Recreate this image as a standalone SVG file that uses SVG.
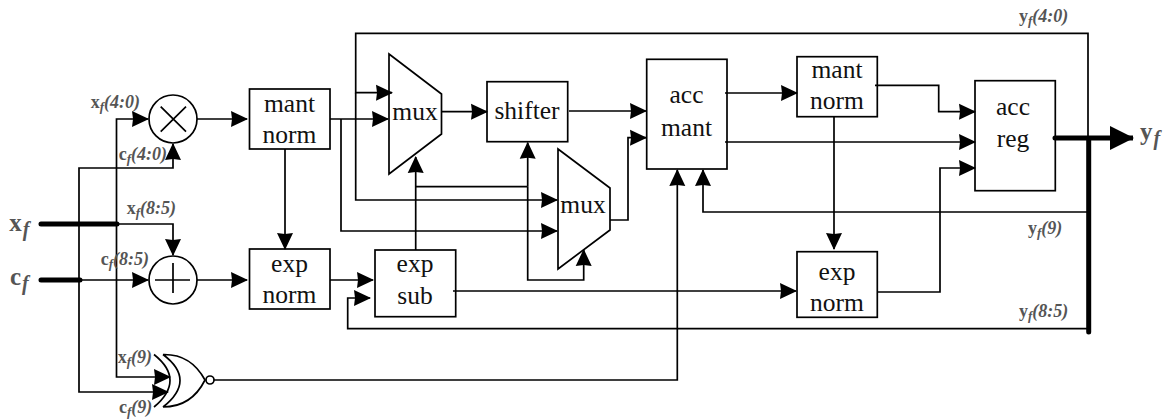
<svg xmlns="http://www.w3.org/2000/svg" width="1176" height="419" viewBox="0 0 1176 419">
<style>
.s{fill:#fff;stroke:#000;stroke-width:1.7}
.n{fill:none;stroke:#000;stroke-width:1.7}
.c{fill:none;stroke:#000;stroke-width:1.7;marker-end:url(#a)}
.w{fill:none;stroke:#000;stroke-width:1.7}
.t{fill:none;stroke:#000;stroke-width:5;stroke-linecap:round}
text{font-family:"Liberation Serif","Times New Roman",serif}
.b{font-size:25.500px;fill:#111;text-anchor:middle}
.l{font-size:18px;font-weight:bold;fill:#555}
.l tspan{font-style:italic}
.l .u{font-style:normal}
.l .f{font-size:13px}
.g{font-size:25px;font-weight:bold;fill:#555}
.g .f{font-size:20px;font-style:italic}
</style>
<defs>
<marker id="a" markerUnits="userSpaceOnUse" markerWidth="18" markerHeight="18" refX="16" refY="8" orient="auto" overflow="visible"><path d="M0,0L17,8L0,16L1,8Z" fill="#000"/></marker>
<marker id="A" markerUnits="userSpaceOnUse" markerWidth="26" markerHeight="26" refX="23" refY="12" orient="auto" overflow="visible"><path d="M0,0L24,12L0,24Z" fill="#000"/></marker>
</defs>
<g id="multiplier"><circle class="s" cx="173" cy="119" r="24"/><path class="n" d="M160.700,106.700L186,131.700M186,106.700L160.700,131.700"/></g>
<g id="adder"><circle class="s" cx="173" cy="280" r="24"/><path class="n" d="M155,280H190M173,263V293"/></g>
<g id="mant-norm-1"><rect class="s" x="249.500" y="89" width="80.500" height="60"/><text class="b" x="289.500" y="112">mant</text><text class="b" x="289.500" y="143">norm</text></g>
<g id="exp-norm-1"><rect class="s" x="249.500" y="249" width="80.500" height="60"/><text class="b" x="289.500" y="272">exp</text><text class="b" x="289.500" y="303">norm</text></g>
<g id="mux-1"><path class="s" d="M389,54L441.500,94V134L389,174Z"/><text class="b" x="415" y="120">mux</text></g>
<g id="shifter"><rect class="s" x="487" y="81.700" width="80.700" height="60"/><text class="b" x="527" y="119">shifter</text></g>
<g id="mux-2"><path class="s" d="M558,149L610,188V230L558,269Z"/><text class="b" x="583" y="213">mux</text></g>
<g id="exp-sub"><rect class="s" x="375" y="250" width="80.700" height="66.700"/><text class="b" x="415" y="272">exp</text><text class="b" x="415" y="304">sub</text></g>
<g id="acc-mant"><rect class="s" x="646.700" y="59.300" width="80.300" height="109.700"/><text class="b" x="686.500" y="103">acc</text><text class="b" x="686.500" y="136">mant</text></g>
<g id="mant-norm-2"><rect class="s" x="797" y="56.700" width="80.300" height="60"/><text class="b" x="837" y="78">mant</text><text class="b" x="837" y="109">norm</text></g>
<g id="exp-norm-2"><rect class="s" x="797" y="251.700" width="80.300" height="65.600"/><text class="b" x="837" y="280">exp</text><text class="b" x="837" y="311">norm</text></g>
<g id="acc-reg"><rect class="s" x="975" y="80.700" width="80.300" height="110"/><text class="b" x="1013" y="115">acc</text><text class="b" x="1013" y="147">reg</text></g>
<g id="xnor"><path class="n" d="M154,354.500Q186,380 154,407M163,354.500Q197,380 163,407M163,354.500C185,354 198,367 205,380C198,394 185,407 163,407"/><circle class="n" cx="210" cy="380" r="4"/></g>
<g id="connectors">
<path class="t" d="M41,224H117M41,280H80M1055,138H1112M1088.700,138V332"/>
<path class="n" d="M1112,138H1133" style="stroke-width:5;marker-end:url(#A)"/>
<path class="c" d="M116.500,224V119H148"/>
<path class="c" d="M79,280V168H173V144"/>
<path class="c" d="M116.500,224H173V255"/>
<path class="c" d="M80,280H148"/>
<path class="c" d="M116.500,224V377H170"/>
<path class="c" d="M79,280V392H168"/>
<path class="c" d="M197,119H247"/>
<path class="c" d="M197,280H247"/>
<path class="c" d="M285,149V249"/>
<path class="c" d="M330,119H388"/>
<path class="c" d="M341,119V231H557"/>
<path class="c" d="M330,280H373"/>
<path class="c" d="M1088,138V33.300H355.700V92.700H392"/>
<path class="c" d="M355.700,92.700V200H557"/>
<path class="c" d="M441.500,111.700H487"/>
<path class="c" d="M569,111H646"/>
<path class="c" d="M610,220H628V137.700H646"/>
<path class="c" d="M415.700,250V157"/>
<path class="w" d="M415.700,186.700H527.700"/>
<path class="c" d="M527.700,186.700V142.700"/>
<path class="c" d="M527.700,186.700V280H583.700V250"/>
<path class="c" d="M453,291H796"/>
<path class="c" d="M1088,328.700H347.700V298H370"/>
<path class="c" d="M214,380H677.300V170"/>
<path class="c" d="M1088,212H703V170"/>
<path class="c" d="M725,93H797"/>
<path class="c" d="M725,142H975"/>
<path class="c" d="M875,85.300H938.700V111.700H975"/>
<path class="c" d="M877,292H940V168H975"/>
<path class="c" d="M834,116V249"/>
</g>
<g id="labels">
<text class="l" x="90.700" y="108"><tspan class="u">x</tspan><tspan class="f" dy="3">f</tspan><tspan dy="-3">(4:0)</tspan></text>
<text class="l" x="118.700" y="160"><tspan class="u">c</tspan><tspan class="f" dy="3">f</tspan><tspan dy="-3">(4:0)</tspan></text>
<text class="l" x="126.700" y="214"><tspan class="u">x</tspan><tspan class="f" dy="3">f</tspan><tspan dy="-3">(8:5)</tspan></text>
<text class="l" x="100.700" y="265"><tspan class="u">c</tspan><tspan class="f" dy="3">f</tspan><tspan dy="-3">(8:5)</tspan></text>
<text class="l" x="117.700" y="363"><tspan class="u">x</tspan><tspan class="f" dy="3">f</tspan><tspan dy="-3">(9)</tspan></text>
<text class="l" x="119" y="413"><tspan class="u">c</tspan><tspan class="f" dy="3">f</tspan><tspan dy="-3">(9)</tspan></text>
<text class="l" x="1019" y="22"><tspan class="u">y</tspan><tspan class="f" dy="3">f</tspan><tspan dy="-3">(4:0)</tspan></text>
<text class="l" x="1028" y="234"><tspan class="u">y</tspan><tspan class="f" dy="3">f</tspan><tspan dy="-3">(9)</tspan></text>
<text class="l" x="1019" y="317"><tspan class="u">y</tspan><tspan class="f" dy="3">f</tspan><tspan dy="-3">(8:5)</tspan></text>
<text class="g" x="9.300" y="231">x<tspan class="f" dx="1" dy="5">f</tspan></text>
<text class="g" x="10" y="285">c<tspan class="f" dx="1" dy="5">f</tspan></text>
<text class="g" x="1140" y="140">y<tspan class="f" dx="1" dy="5">f</tspan></text>
</g>
</svg>
